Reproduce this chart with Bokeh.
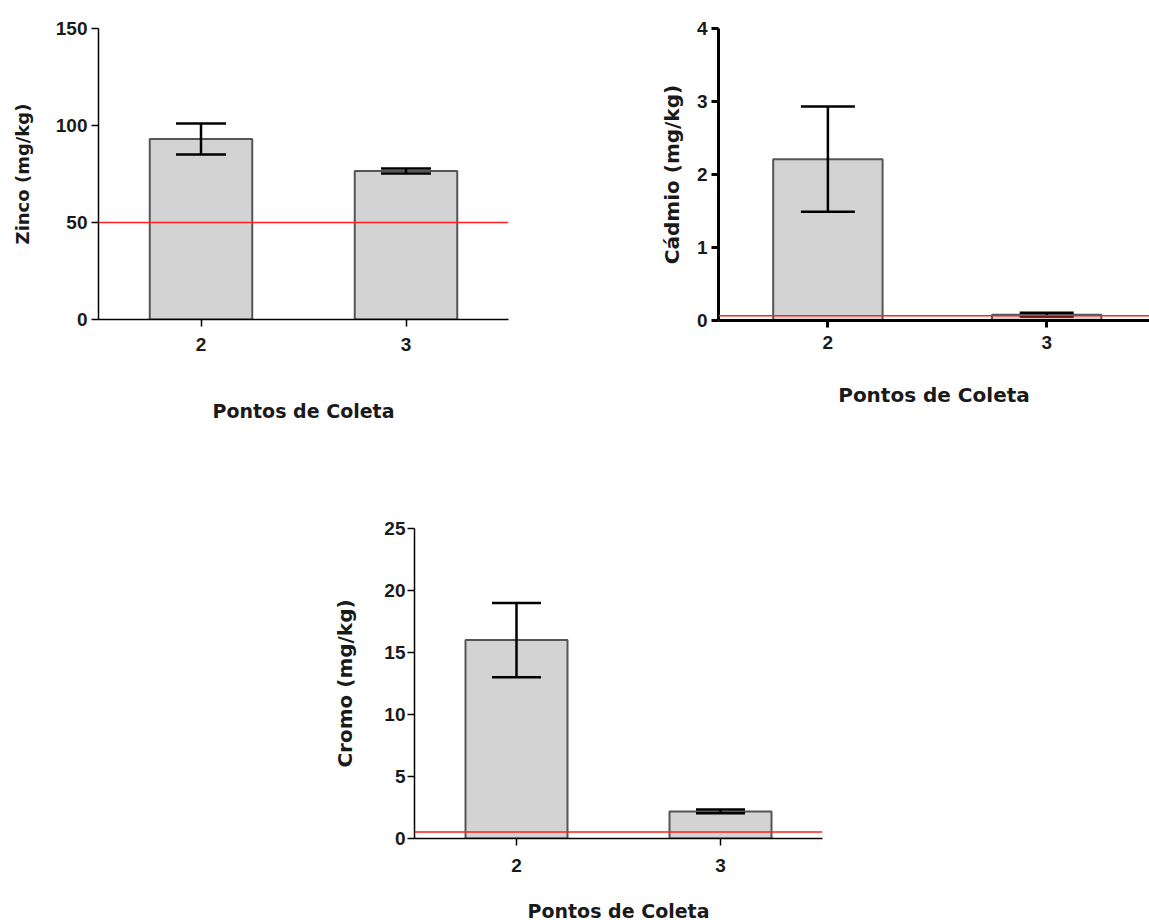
from bokeh.plotting import figure
from bokeh.layouts import column, row, Spacer
from bokeh.models import (ColumnDataSource, Range1d, FixedTicker, Span,
                          Whisker, TeeHead)
from bokeh.embed import file_html
from bokeh.resources import INLINE

# ---- data ----
points = ["2", "3"]

zinc_mean = [93.0, 76.5]
zinc_sd = [8.0, 1.3]
zinc_ref = 50.0

cd_mean = [2.21, 0.08]
cd_sd = [0.72, 0.025]
cd_ref = 0.065

cr_mean = [16.0, 2.18]
cr_sd = [3.0, 0.15]
cr_ref = 0.53

zinc_ticks = [0, 50, 100, 150]
cd_ticks = [0, 1, 2, 3, 4]
cr_ticks = [0, 5, 10, 15, 20, 25]

TICK_FONT = "Liberation Sans"
LABEL_FONT = "DejaVu Sans"


def make_panel(mean, sd, ref, yticks, ylabel, *, x_end, frame_w, frame_h,
               b_left, b_top, b_right, b_bottom, axis_w, cap_px,
               ylab_size, xlab_size, tick_size, ylab_standoff, xlab_standoff,
               ytick_standoff, xtick_standoff):
    xs = list(range(1, len(points) + 1))
    src = ColumnDataSource(dict(
        x=xs, top=mean,
        upper=[m + s for m, s in zip(mean, sd)],
        lower=[m - s for m, s in zip(mean, sd)],
    ))
    p = figure(output_backend="svg", toolbar_location=None,
               frame_width=frame_w, frame_height=frame_h,
               min_border_left=b_left, min_border_top=b_top,
               min_border_right=b_right, min_border_bottom=b_bottom,
               x_range=Range1d(0.5, x_end),
               y_range=Range1d(yticks[0], yticks[-1]))
    p.outline_line_color = None
    p.grid.visible = False
    p.background_fill_color = "white"
    p.border_fill_color = "white"

    p.vbar(x="x", top="top", width=0.5, source=src,
           fill_color="#d3d3d3", line_color="#555555", line_width=2)

    w = Whisker(source=src, base="x", upper="upper", lower="lower",
                level="overlay",
                line_color="black", line_width=2.5,
                upper_head=TeeHead(size=cap_px, line_width=2.5, line_color="black"),
                lower_head=TeeHead(size=cap_px, line_width=2.5, line_color="black"))
    p.add_layout(w)

    p.add_layout(Span(location=ref, dimension="width", line_color="#ff2020",
                      line_width=1.6, level="overlay"))

    p.xaxis.ticker = FixedTicker(ticks=xs)
    p.xaxis.major_label_overrides = {x: lab for x, lab in zip(xs, points)}
    p.yaxis.ticker = FixedTicker(ticks=yticks)

    for ax in (p.xaxis[0], p.yaxis[0]):
        ax.axis_line_width = axis_w
        ax.axis_line_color = "black"
        ax.major_tick_line_width = axis_w
        ax.major_tick_line_color = "black"
        ax.major_tick_out = 7
        ax.major_tick_in = 0
        ax.minor_tick_line_color = None
        ax.major_label_text_font = TICK_FONT
        ax.major_label_text_font_style = "bold"
        ax.major_label_text_font_size = f"{tick_size}px"
        ax.major_label_text_color = "#1a1a1a"
        ax.axis_label_text_font = LABEL_FONT
        ax.axis_label_text_font_style = "bold"
        ax.axis_label_text_color = "#1a1a1a"

    p.yaxis.axis_label = ylabel
    p.yaxis.axis_label_text_font_size = f"{ylab_size}px"
    p.yaxis.axis_label_standoff = ylab_standoff
    p.yaxis.major_label_standoff = ytick_standoff
    p.xaxis.axis_label = "Pontos de Coleta"
    p.xaxis.axis_label_text_font_size = f"{xlab_size}px"
    p.xaxis.axis_label_standoff = xlab_standoff
    p.xaxis.major_label_standoff = xtick_standoff
    return p


p_zn = make_panel(zinc_mean, zinc_sd, zinc_ref, zinc_ticks, "Zinco (mg/kg)",
                  x_end=2.5, frame_w=410, frame_h=291,
                  b_left=98, b_top=28, b_right=52, b_bottom=131,
                  axis_w=1.5, cap_px=50, ylab_size=18, xlab_size=19,
                  tick_size=19, ylab_standoff=20, xlab_standoff=46,
                  ytick_standoff=4, xtick_standoff=11)

p_cd = make_panel(cd_mean, cd_sd, cd_ref, cd_ticks, "Cádmio (mg/kg)",
                  x_end=2.47, frame_w=431, frame_h=292,
                  b_left=158, b_top=27, b_right=0, b_bottom=131,
                  axis_w=3, cap_px=54, ylab_size=20, xlab_size=20,
                  tick_size=19, ylab_standoff=10, xlab_standoff=31,
                  ytick_standoff=4, xtick_standoff=8)

p_cr = make_panel(cr_mean, cr_sd, cr_ref, cr_ticks, "Cromo (mg/kg)",
                  x_end=2.5, frame_w=408, frame_h=310,
                  b_left=100, b_top=78, b_right=20, b_bottom=82,
                  axis_w=1.5, cap_px=49, ylab_size=20, xlab_size=19,
                  tick_size=19, ylab_standoff=24, xlab_standoff=25,
                  ytick_standoff=2, xtick_standoff=13)

layout = column(row(p_zn, p_cd), row(Spacer(width=314, height=10), p_cr),
                spacing=0)

open("out.html", "w").write(file_html(layout, INLINE))
